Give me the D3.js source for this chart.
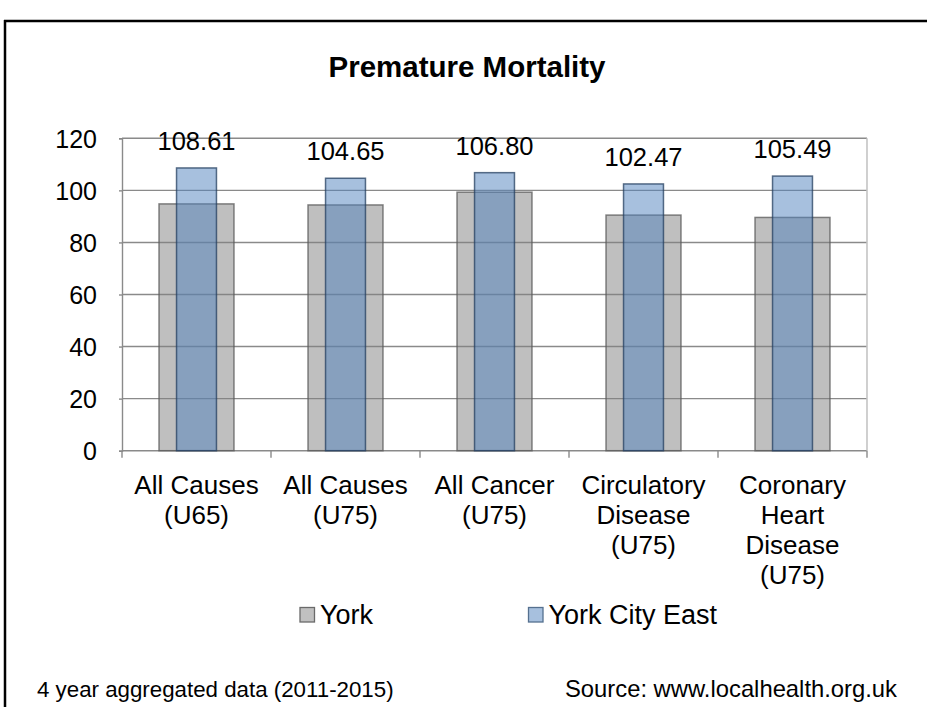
<!DOCTYPE html>
<html><head><meta charset="utf-8">
<script src="https://cdn.jsdelivr.net/npm/d3@7"></script>
<style>body{margin:0;background:#fff;} text{font-family:"Liberation Sans",Arial,sans-serif;fill:#000;}</style>
</head><body>
<svg id="c" width="927" height="707"></svg>
<script>
const title = "Premature Mortality";
const categories = ["All Causes\n(U65)", "All Causes\n(U75)", "All Cancer\n(U75)", "Circulatory\nDisease\n(U75)", "Coronary\nHeart\nDisease\n(U75)"];
const seriesNames = ["York", "York City East"];
const yorkValues = [94.8, 94.4, 99.3, 90.5, 89.6];
const eastValues = [108.61, 104.65, 106.80, 102.47, 105.49];
const yTicks = [0, 20, 40, 60, 80, 100, 120];
const footLeft = "4 year aggregated data (2011-2015)";
const footRight = "Source: www.localhealth.org.uk";

const svg = d3.select("#c");
const L = 122, R = 867, T = 138.3, B = 450.7;
const x = d3.scaleBand().domain(categories).range([L, R]).padding(0);
const y = d3.scaleLinear().domain([0, 120]).range([B, T]);

// outer frame
svg.append("line").attr("x1", 4).attr("x2", 927).attr("y1", 21).attr("y2", 21).attr("stroke", "#000").attr("stroke-width", 2.5);
svg.append("line").attr("x1", 5).attr("x2", 5).attr("y1", 20).attr("y2", 707).attr("stroke", "#000").attr("stroke-width", 2.5);

// title
svg.append("text").attr("x", 467).attr("y", 77).attr("text-anchor", "middle")
  .style("font-size", "29.5px").style("font-weight", "bold").text(title);

// gridlines
svg.append("g").selectAll("line").data(yTicks).join("line")
  .attr("x1", L).attr("x2", R).attr("y1", d => y(d)).attr("y2", d => y(d))
  .attr("stroke", "#8a8a8a").attr("stroke-width", 1.4);
// right border of plot
svg.append("line").attr("x1", R).attr("x2", R).attr("y1", T).attr("y2", B)
  .attr("stroke", "#c4c4c4").attr("stroke-width", 1.6);

// y axis
const yAxis = d3.axisLeft(y).tickValues(yTicks).tickSize(3).tickPadding(22);
const gy = svg.append("g").attr("transform", `translate(${L},0)`).call(yAxis);
gy.select(".domain").attr("stroke", "#8a8a8a").attr("stroke-width", 1.4);
gy.selectAll(".tick line").attr("stroke", "#8a8a8a").attr("stroke-width", 1.4);
gy.selectAll(".tick text").style("font-size", "25px").style("font-family", "'Liberation Sans', Arial, sans-serif").attr("fill", "#000").attr("dy", "0.36em");
svg.append("line").attr("x1", L).attr("x2", L).attr("y1", B).attr("y2", B + 7).attr("stroke", "#8a8a8a").attr("stroke-width", 1.4);

// x axis ticks at band boundaries
const bounds = categories.map(c => x(c) + x.bandwidth());
svg.append("g").selectAll("line").data(bounds).join("line")
  .attr("x1", d => d).attr("x2", d => d).attr("y1", B).attr("y2", B + 7)
  .attr("stroke", "#8a8a8a").attr("stroke-width", 1.4);

// bars
const bw = x.bandwidth();
const greyW = bw * 0.503, blueW = bw * 0.268;
svg.append("g").selectAll("rect").data(yorkValues).join("rect")
  .attr("x", (d, i) => x(categories[i]) + bw / 2 - greyW / 2)
  .attr("width", greyW)
  .attr("y", d => y(d)).attr("height", d => B - y(d))
  .attr("fill", "#808080").attr("fill-opacity", 0.5)
  .attr("stroke", "#5a5a5a").attr("stroke-opacity", 0.75).attr("stroke-width", 1.5);
svg.append("g").selectAll("rect").data(eastValues).join("rect")
  .attr("x", (d, i) => x(categories[i]) + bw / 2 - blueW / 2)
  .attr("width", blueW)
  .attr("y", d => y(d)).attr("height", d => B - y(d))
  .attr("fill", "#4F81BD").attr("fill-opacity", 0.5)
  .attr("stroke", "#243f60").attr("stroke-opacity", 0.75).attr("stroke-width", 1.5);

// value labels
svg.append("g").selectAll("text").data(eastValues).join("text")
  .attr("x", (d, i) => x(categories[i]) + bw / 2)
  .attr("y", d => y(d) - 18)
  .attr("text-anchor", "middle").style("font-size", "25.5px")
  .text(d => d.toFixed(2));

// category labels
const xl = svg.append("g");
categories.forEach(c => {
  const t = xl.append("text").attr("text-anchor", "middle").style("font-size", "26px")
    .attr("x", x(c) + bw / 2).attr("y", 494);
  c.split("\n").forEach((line, j) => {
    t.append("tspan").attr("x", x(c) + bw / 2).attr("y", 494 + j * 30).text(line);
  });
});

// legend
const legX = [300, 528.5];
const legFill = ["#c0c0c0", "#a7c0de"];
const legStroke = ["#6a6a6a", "#55708f"];
seriesNames.forEach((n, i) => {
  svg.append("rect").attr("x", legX[i]).attr("y", 607.5).attr("width", 14.5).attr("height", 14.5)
    .attr("fill", legFill[i]).attr("stroke", legStroke[i]).attr("stroke-width", 1.3);
  svg.append("text").attr("x", legX[i] + 20).attr("y", 624).style("font-size", "27px").text(n);
});

// footer
svg.append("text").attr("x", 37).attr("y", 697).style("font-size", "22.3px").text(footLeft);
svg.append("text").attr("x", 897).attr("y", 697).attr("text-anchor", "end").style("font-size", "23.8px").text(footRight);
</script>
</body></html>
